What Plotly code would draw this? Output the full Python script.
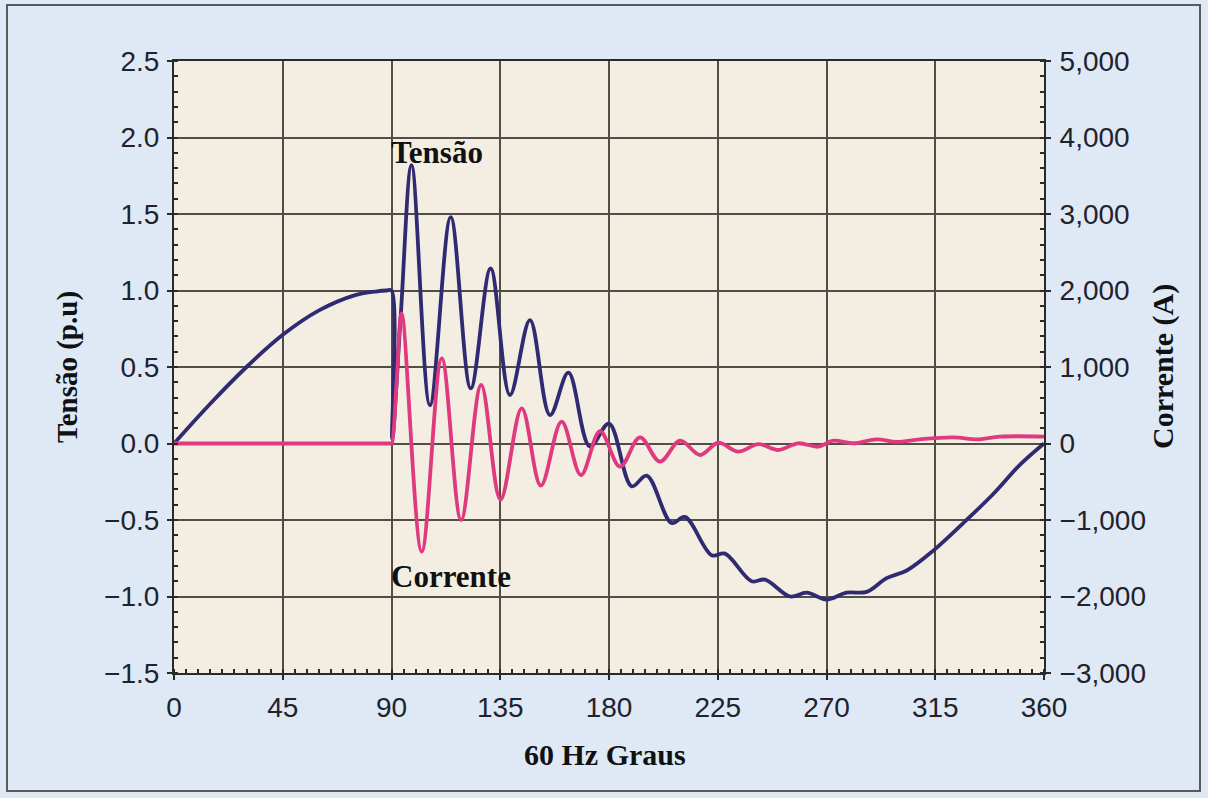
import plotly.graph_objects as go

# Tensão (p.u) vs. ângulo (graus)
theta_v = [0, 15, 30, 45, 60, 75, 84, 88, 90, 90.3, 93.8, 98.3, 105.9, 114.5, 122.8,
           131.0, 139.0, 147.3, 155.6, 163.2, 172.1, 180.0, 189.4, 195.6, 205.9,
           211.4, 222.5, 228.0, 239.0, 244.6, 254.9, 261.8, 270.0, 278.3, 286.6,
           294.9, 303.2, 314.2, 326.6, 339.0, 350.0, 360]
tensao = [0.0, 0.26, 0.50, 0.71, 0.87, 0.97, 0.995, 1.0, 1.0, 0.03, 0.83, 1.82, 0.25, 1.48, 0.36,
          1.145, 0.317, 0.807, 0.186, 0.463, -0.02, 0.13, -0.28, -0.21, -0.52,
          -0.48, -0.73, -0.72, -0.90, -0.89, -1.00, -0.975, -1.02, -0.975, -0.97,
          -0.88, -0.83, -0.70, -0.52, -0.33, -0.14, 0.0]

# Corrente (A) vs. ângulo (graus)
theta_i = [0, 45, 88, 90, 90.2, 92.1, 94.2, 102.5, 110.8, 118.8, 127.1, 135.1, 143.9,
           151.8, 160.4, 168.4, 176.3, 184.6, 192.8, 201.1, 209.4, 217.7, 225.2,
           233.5, 241.8, 250.0, 258.3, 266.6, 272.8, 281.1, 290.8, 299.0, 308.7,
           322.5, 332.1, 341.8, 360]
corrente = [0, 0, 0, 0, 0, 787, 1702, -1414, 1114, -1000, 765, -735, 460,
            -550, 285, -412, 160, -303, 80, -237, 37, -150, 10,
            -107, -7, -85, 3, -42, 37, 3, 55, 20, 55,
            80, 55, 90, 90]

x_ticks = [0, 45, 90, 135, 180, 225, 270, 315, 360]

BLUE = "#2f2a72"
PINK = "#df3a80"
GRID = "#524e46"
AXIS = "#2a2a2a"
TICKFONT = dict(family="Liberation Sans, Arial, Helvetica, sans-serif", size=28, color="#22222c")
SERIF = "Liberation Serif, Times New Roman, serif"

fig = go.Figure()
fig.add_trace(go.Scatter(x=theta_v, y=tensao, mode="lines",
                         line=dict(color=BLUE, width=3.8, shape="spline", smoothing=1.0),
                         hoverinfo="skip", showlegend=False))
fig.add_trace(go.Scatter(x=theta_i, y=corrente, mode="lines", yaxis="y2",
                         line=dict(color=PINK, width=3.8, shape="spline", smoothing=1.0),
                         hoverinfo="skip", showlegend=False))

W, H = 1208, 798
L, R, T, B = 174, 164, 61, 125
pw, ph = W - L - R, H - T - B


def px_x(p):
    return (p - L) / pw


def px_y(p):
    return (H - B - p) / ph


minor_style = dict(ticks="inside", ticklen=4, tickcolor=AXIS, tickwidth=1.5)

fig.update_layout(
    width=W, height=H,
    margin=dict(l=L, r=R, t=T, b=B, pad=0),
    paper_bgcolor="#dee9f5",
    plot_bgcolor="#f4eee2",
    xaxis=dict(range=[0, 360], tickvals=x_ticks, showgrid=True, gridcolor=GRID, gridwidth=2,
               showline=True, linecolor=AXIS, linewidth=2, mirror=True,
               ticks="outside", ticklen=5, tickcolor=AXIS, tickwidth=2,
               tickfont=TICKFONT, zeroline=False, ticklabelstandoff=3,
               minor=dict(dtick=5, **minor_style)),
    yaxis=dict(range=[-1.5, 2.5], dtick=0.5, tick0=0, tickformat=".1f", showgrid=True,
               gridcolor=GRID, gridwidth=2, showline=True, linecolor=AXIS, linewidth=2,
               ticks="outside", ticklen=5, tickcolor=AXIS, tickwidth=2,
               tickfont=TICKFONT, zeroline=False, ticklabelstandoff=2,
               minor=dict(dtick=0.1, **minor_style)),
    yaxis2=dict(range=[-3000, 5000], dtick=1000, tick0=0, tickformat=",d", overlaying="y",
                side="right", showgrid=False, showline=True, linecolor=AXIS, linewidth=2,
                ticks="outside", ticklen=5, tickcolor=AXIS, tickwidth=2,
                tickfont=TICKFONT, zeroline=False, ticklabelstandoff=3,
                minor=dict(dtick=200, **minor_style)),
    shapes=[dict(type="rect", xref="paper", yref="paper",
                 x0=px_x(7), x1=px_x(1200), y0=px_y(791), y1=px_y(5),
                 line=dict(color="#5a5a5a", width=2), layer="below")],
    annotations=[
        dict(text="<b>Tensão (p.u)</b>", xref="paper", yref="paper", x=px_x(67), y=0.5,
             xanchor="center", yanchor="middle", textangle=-90, showarrow=False,
             font=dict(family=SERIF, size=29, color="#111")),
        dict(text="<b>Corrente (A)</b>", xref="paper", yref="paper", x=px_x(1163), y=0.5,
             xanchor="center", yanchor="middle", textangle=-90, showarrow=False,
             font=dict(family=SERIF, size=30, color="#111")),
        dict(text="<b>60 Hz Graus</b>", xref="paper", yref="paper", x=px_x(605), y=px_y(754),
             xanchor="center", yanchor="middle", showarrow=False,
             font=dict(family=SERIF, size=30, color="#111")),
        dict(text="<b>Tensão</b>", xref="x", yref="y", x=89, y=1.9, xanchor="left",
             yanchor="middle", showarrow=False, font=dict(family=SERIF, size=31, color="#111")),
        dict(text="<b>Corrente</b>", xref="x", yref="y", x=89, y=-0.87, xanchor="left",
             yanchor="middle", showarrow=False, font=dict(family=SERIF, size=31, color="#111")),
    ],
)

fig.write_html("out.html")
